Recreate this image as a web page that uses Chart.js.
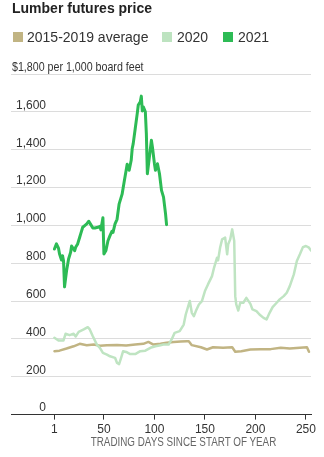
<!DOCTYPE html>
<html>
<head>
<meta charset="utf-8">
<script src="https://cdn.jsdelivr.net/npm/chart.js@4"></script>
<style>
  body { margin: 0; background: #fff; }
  #wrap { position: relative; width: 324px; height: 457px; font-family: "Liberation Sans", Arial, sans-serif; color: #333; }
  #wrap canvas { position: absolute; left: 0; top: 0; }
  .title { position: absolute; left: 12px; top: 0; font-size: 14px; line-height: 16px; font-weight: bold; color: #222; }
  .sw { position: absolute; top: 32px; width: 10px; height: 10px; }
  .lg { position: absolute; top: 29px; font-size: 14px; line-height: 16px; }
  .units { position: absolute; left: 12px; top: 59px; font-size: 13px; line-height: 15px; white-space: nowrap; transform: scaleX(0.82); transform-origin: 0 0; }
  .xtitle { position: absolute; left: 0; width: 367px; text-align: center; top: 435px; font-size: 12px; line-height: 14px; color: #666; white-space: nowrap; transform: scaleX(0.82); transform-origin: 50% 0; }
</style>
</head>
<body>
<div id="wrap">
  <canvas id="myChart"></canvas>
  <div class="title">Lumber futures price</div>
  <div class="sw" style="left:13px;background:#c1b483"></div>
  <div class="lg" style="left:27px">2015-2019 average</div>
  <div class="sw" style="left:162px;background:#bde3c0"></div>
  <div class="lg" style="left:177px">2020</div>
  <div class="sw" style="left:223px;background:#2dbb55"></div>
  <div class="lg" style="left:238px">2021</div>
  <div class="units">$1,800 per 1,000 board feet</div>
  <div class="xtitle">TRADING DAYS SINCE START OF YEAR</div>
</div>
<script>
// trading day / price pairs
const days2021 = [1, 3, 5, 6, 8, 9, 10, 11, 13, 15, 17, 18, 21, 22, 24, 26, 27, 29, 31, 33, 35, 37, 39, 41, 44, 46, 47, 49, 50, 52, 54, 56, 58, 59, 61, 63, 65, 68, 70, 72, 73, 75, 77, 78, 79, 81, 83, 84, 86, 87, 88, 89, 91, 92, 93, 95, 97, 98, 100, 101, 103, 105, 107, 109, 111, 112];
const price2021 = [875, 902, 880, 850, 817, 840, 813, 675, 760, 822, 857, 891, 866, 884, 902, 937, 955, 990, 999, 1008, 1022, 1004, 986, 986, 990, 995, 976, 1040, 849, 867, 919, 946, 969, 963, 1008, 1032, 1112, 1165, 1229, 1291, 1323, 1291, 1344, 1406, 1432, 1512, 1592, 1636, 1653, 1683, 1605, 1626, 1600, 1485, 1273, 1361, 1450, 1414, 1326, 1291, 1326, 1273, 1185, 1149, 1061, 1004];

const days2020 = [1, 5, 10, 12, 16, 20, 22, 25, 30, 34, 36, 39, 43, 46, 49, 53, 56, 61, 63, 65, 67, 69, 72, 76, 81, 86, 91, 96, 101, 106, 109, 114, 117, 120, 125, 129, 131, 134, 135, 137, 139, 141, 144, 147, 150, 153, 157, 159, 162, 163, 165, 167, 170, 172, 173, 175, 177, 179, 180, 181, 183, 185, 188, 191, 195, 197, 201, 204, 208, 211, 214, 217, 221, 224, 228, 231, 234, 238, 241, 244, 247, 250, 253, 255];
const price2020 = [406, 392, 392, 427, 420, 427, 413, 437, 450, 462, 450, 414, 370, 353, 326, 317, 308, 300, 273, 267, 300, 335, 331, 320, 320, 335, 338, 353, 361, 367, 370, 370, 397, 432, 441, 476, 529, 582, 600, 538, 520, 547, 582, 600, 653, 688, 732, 776, 829, 815, 882, 926, 935, 847, 900, 926, 979, 917, 626, 582, 550, 591, 591, 617, 585, 556, 547, 529, 511, 503, 538, 568, 591, 609, 626, 644, 679, 741, 812, 847, 885, 891, 882, 867];

const daysAvg = [1, 6, 13, 20, 26, 33, 40, 46, 53, 63, 72, 81, 89, 94, 99, 106, 112, 119, 126, 132, 134, 137, 146, 152, 158, 168, 177, 180, 186, 195, 205, 215, 225, 234, 244, 251, 253];
const priceAvg = [335, 338, 349, 361, 374, 367, 370, 364, 367, 368, 365, 370, 374, 384, 370, 374, 380, 384, 386, 388, 388, 367, 356, 344, 356, 353, 356, 332, 335, 344, 346, 346, 353, 349, 353, 356, 332];

const xTicks = [1, 50, 100, 150, 200, 250];

function pts(days, vals) {
  return days.map((d, i) => ({ x: d, y: vals[i] }));
}

const ctx = document.getElementById("myChart");
const chart = new Chart(ctx, {
  type: "line",
  data: {
    datasets: [
      { label: "2021", data: pts(days2021, price2021), borderColor: "#2dbb55", borderWidth: 3 },
      { label: "2020", data: pts(days2020, price2020), borderColor: "#bfe4c2", borderWidth: 2.5 },
      { label: "2015-2019 average", data: pts(daysAvg, priceAvg), borderColor: "#c1b483", borderWidth: 2.5 },
    ],
  },
  options: {
    responsive: true,
    maintainAspectRatio: false,
    animation: false,
    events: [],
    // y ticks are mirrored: axis width = 2 * padding, so left pad + 10 = 11
    layout: { padding: { left: 1, right: 13, top: 74, bottom: 17 } },
    elements: {
      point: { radius: 0 },
      line: { tension: 0, borderJoinStyle: "round", borderCapStyle: "round" },
    },
    plugins: { legend: { display: false }, tooltip: { enabled: false } },
    scales: {
      x: {
        type: "linear",
        min: -42,
        max: 255,
        afterBuildTicks: (scale) => {
          scale.ticks = xTicks.map((v) => ({ value: v }));
        },
        grid: { drawOnChartArea: false, drawTicks: true, tickLength: 5, color: "#333" },
        border: { color: "#333", width: 1 },
        ticks: {
          color: "#333",
          padding: 3,
          maxRotation: 0,
          font: { family: "Liberation Sans", size: 12 },
          callback: (v) => String(v),
        },
      },
      y: {
        min: 0,
        max: 1800,
        grid: { color: "#dcdcdc", drawTicks: false },
        border: { display: false },
        ticks: {
          stepSize: 200,
          mirror: true,
          crossAlign: "far",
          padding: 5,
          labelOffset: -6.5,
          color: "#333",
          font: { family: "Liberation Sans", size: 12 },
          callback: (v) => (v === 1800 ? "" : v.toLocaleString("en-US")),
        },
      },
    },
  },
});
</script>
</body>
</html>
